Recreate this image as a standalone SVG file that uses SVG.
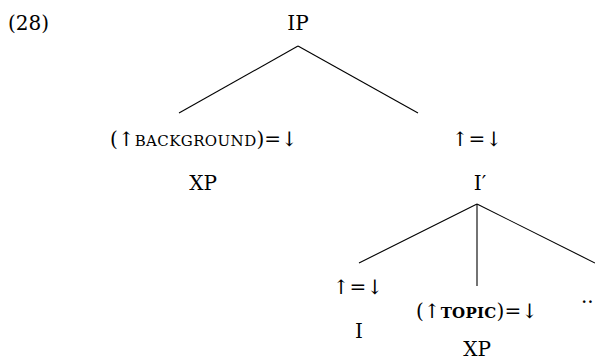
<svg xmlns="http://www.w3.org/2000/svg" width="595" height="360" viewBox="0 0 595 360">
<style>
text{font-family:"DejaVu Serif","Liberation Serif",serif;font-size:20px;fill:#000;text-anchor:middle}
.sc{font-size:15px;letter-spacing:0.4px}
.scb{font-size:15px;font-weight:bold;letter-spacing:0.3px}
.edges line{stroke:#000;stroke-width:1.1}
</style>
<rect width="595" height="360" fill="#fff"/>
<text x="8" y="30" style="text-anchor:start">(28)</text>
<g class="edges" id="connectors">
<line x1="298" y1="46" x2="179" y2="113"/>
<line x1="298" y1="46" x2="418" y2="113"/>
<line x1="477" y1="204" x2="359" y2="263"/>
<line x1="477" y1="204" x2="477" y2="286"/>
<line x1="477" y1="204" x2="595" y2="263"/>
</g>
<g id="IP"><text x="298" y="30">IP</text></g>
<g id="XP1"><text x="204" y="146">(↑<tspan class="sc">BACKGROUND</tspan>)=↓</text><text x="203" y="190">XP</text></g>
<g id="Ibar"><text x="477" y="146">↑=↓</text><text x="480" y="190">I′</text></g>
<g id="I"><text x="358" y="294">↑=↓</text><text x="359" y="338">I</text></g>
<g id="XP2"><text x="477" y="318">(↑<tspan class="scb">TOPIC</tspan>)=↓</text><text x="477" y="356">XP</text></g>
<g id="dots"><text x="581" y="303" style="text-anchor:start">...</text></g>
</svg>
